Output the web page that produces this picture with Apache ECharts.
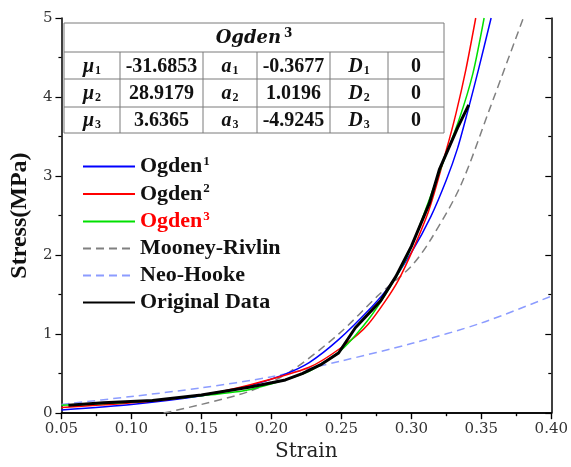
<!DOCTYPE html>
<html><head><meta charset="utf-8">
<script src="https://cdn.jsdelivr.net/npm/echarts/dist/echarts.min.js"></script>
<style>html,body{margin:0;padding:0;background:#fff}#c{width:571px;height:467px}</style>
</head><body><div id="c"></div>
<script>
// ---- data ----
const ogden1Strain = [0.05,0.10,0.15,0.185,0.208,0.227,0.248,0.272,0.284,0.30,0.314,0.325,0.333,0.340,0.348,0.357];
const ogden1Stress = [0.04,0.11,0.22,0.35,0.48,0.64,0.93,1.35,1.60,2.03,2.49,2.95,3.35,3.80,4.35,5.00];
const ogden2Strain = [0.05,0.10,0.15,0.185,0.227,0.25,0.269,0.291,0.312,0.325,0.332,0.339,0.346];
const ogden2Stress = [0.07,0.13,0.23,0.36,0.58,0.83,1.12,1.69,2.54,3.33,3.80,4.35,5.00];
const ogden3Strain = [0.05,0.10,0.15,0.185,0.227,0.25,0.27,0.29,0.30,0.319,0.334,0.344,0.352];
const ogden3Stress = [0.10,0.14,0.22,0.30,0.53,0.80,1.20,1.75,2.10,3.00,3.71,4.30,5.00];
const mooneyStrain = [0.123,0.15,0.185,0.213,0.248,0.277,0.30,0.314,0.335,0.356,0.38];
const mooneyStress = [0.00,0.11,0.28,0.52,1.00,1.50,1.86,2.20,2.87,3.85,5.00];
const neoStrain = [0.05,0.10,0.15,0.20,0.25,0.30,0.35,0.40];
const neoStress = [0.11,0.21,0.32,0.46,0.66,0.88,1.14,1.48];
const origStrain = [0.055,0.08,0.115,0.15,0.185,0.21,0.222,0.236,0.248,0.26,0.278,0.289,0.300,0.313,0.320,0.333,0.341];
const origStress = [0.10,0.13,0.16,0.23,0.33,0.42,0.50,0.62,0.76,1.08,1.42,1.73,2.11,2.66,3.08,3.61,3.90];

const seriesNames = ['Ogden1','Ogden2','Ogden3','Mooney-Rivlin','Neo-Hooke','Original Data'];
const tableTitle = 'Ogden';
const tableTitleSup = '3';
const muValues = ['-31.6853','28.9179','3.6365'];
const aValues = ['-0.3677','1.0196','-4.9245'];
const dValues = ['0','0','0'];
const subIndex = ['1','2','3'];

// ---- layout ----
const colX = [64,120,203,257,330,388,444];
const rowY = [23,52,79,107,133];

function pairs(xs, ys){ return xs.map((x,i)=>[x, ys[i]]); }

const FONT = 'Liberation Serif';
const graphics = [];
graphics.push({type:'rect', shape:{x:colX[0], y:rowY[0], width:colX[6]-colX[0], height:rowY[4]-rowY[0]},
  style:{fill:'#fff', stroke:'#7a7a7a', lineWidth:1}, z:10});
for (let r=1;r<4;r++) graphics.push({type:'line', shape:{x1:colX[0],y1:rowY[r],x2:colX[6],y2:rowY[r]}, style:{stroke:'#7a7a7a',lineWidth:1}, z:11});
for (let c=1;c<6;c++) graphics.push({type:'line', shape:{x1:colX[c],y1:rowY[1],x2:colX[c],y2:rowY[4]}, style:{stroke:'#7a7a7a',lineWidth:1}, z:11});
graphics.push({type:'text', x:(colX[0]+colX[6])/2, y:(rowY[0]+rowY[1])/2+1, z:12,
  style:{text:tableTitle+'{sup|'+tableTitleSup+'}', fill:'#111', font:'italic bold 18px "DejaVu Serif"', align:'center', verticalAlign:'middle',
    rich:{sup:{fontSize:12, fontWeight:'bold', fontFamily:'DejaVu Serif', padding:[0,0,10,3]}}}});
const richSub = {sub:{fontSize:12, fontStyle:'normal', fontWeight:'bold', fontFamily:FONT, padding:[8,0,0,1]}};
for (let r=0;r<3;r++){
  const cy = (rowY[r+1]+rowY[r+2])/2 + 1;
  const cells = [
    ['μ{sub|'+subIndex[r]+'}', true],
    [muValues[r], false],
    ['a{sub|'+subIndex[r]+'}', true],
    [aValues[r], false],
    ['D{sub|'+subIndex[r]+'}', true],
    [dValues[r], false]
  ];
  cells.forEach((cell,c)=>{
    graphics.push({type:'text', x:(colX[c]+colX[c+1])/2, y:cy, z:12,
      style:{text:cell[0], fill:'#111', font:(cell[1]?'italic bold ':'bold ')+'20px "'+FONT+'"', align:'center', verticalAlign:'middle', rich:richSub}});
  });
}

const chart = echarts.init(document.getElementById('c'), null, {renderer:'canvas'});
const axisCommon = {
  axisLine:{show:true, lineStyle:{color:'#000', width:1.5}},
  splitLine:{show:false}
};
chart.setOption({
  backgroundColor:'#fff',
  animation:false,
  grid:{left:59, right:16, top:18, bottom:53, containLabel:false},
  xAxis:[
    Object.assign({type:'value', min:0.05, max:0.40, interval:0.05, position:'bottom',
      axisTick:{show:true, inside:false, length:6, lineStyle:{color:'#000', width:1.2}},
      minorTick:{show:true, splitNumber:2, length:3, lineStyle:{color:'#000', width:1.2}},
      axisLabel:{margin:9, fontFamily:'DejaVu Serif', fontSize:15, color:'#333', formatter:v=>v.toFixed(2)},
      name:'Strain', nameLocation:'middle', nameGap:28,
      nameTextStyle:{fontFamily:'DejaVu Serif', fontSize:20, color:'#222'}}, axisCommon),
    Object.assign({type:'value', min:0.05, max:0.40, interval:0.05, position:'top',
      axisTick:{show:true, inside:true, length:6, lineStyle:{color:'#000', width:1.2}},
      minorTick:{show:true, splitNumber:2, length:3, lineStyle:{color:'#000', width:1.2}},
      axisLabel:{show:false}}, axisCommon)
  ],
  yAxis:[
    Object.assign({type:'value', min:0, max:5, interval:1, position:'left',
      axisTick:{show:true, inside:false, length:6, lineStyle:{color:'#000', width:1.2}},
      minorTick:{show:true, splitNumber:2, length:3, lineStyle:{color:'#000', width:1.2}},
      axisLabel:{margin:9, fontFamily:'DejaVu Serif', fontSize:15, color:'#333'},
      name:'Stress(MPa)', nameLocation:'middle', nameGap:17,
      nameTextStyle:{fontFamily:FONT, fontWeight:'bold', fontSize:24, color:'#111'}}, axisCommon),
    Object.assign({type:'value', min:0, max:5, interval:1, position:'right',
      axisTick:{show:true, inside:true, length:6, lineStyle:{color:'#000', width:1.2}},
      minorTick:{show:true, splitNumber:2, length:3, lineStyle:{color:'#000', width:1.2}},
      axisLabel:{show:false}}, axisCommon)
  ],
  legend:{
    orient:'vertical', left:77, top:150, itemWidth:52, itemHeight:10, itemGap:5,
    itemStyle:{opacity:0},
    textStyle:{fontFamily:FONT, fontWeight:'bold', fontSize:22, color:'#111', lineHeight:22,
      rich:{sup:{fontSize:13, fontWeight:'bold', fontFamily:FONT, padding:[0,0,10,1]}}},
    formatter:n=>n.replace(/^Ogden(\d)$/, 'Ogden{sup|$1}'),
    data:[
      {name:seriesNames[0]},
      {name:seriesNames[1]},
      {name:seriesNames[2], textStyle:{color:'#ff0000'}},
      {name:seriesNames[3]},
      {name:seriesNames[4]},
      {name:seriesNames[5]}
    ]
  },
  graphic:graphics,
  series:[
    {name:seriesNames[0], type:'line', data:pairs(ogden1Strain, ogden1Stress), smooth:0.25, symbol:'none', clip:true,
      lineStyle:{color:'#0000ff', width:1.5}, itemStyle:{color:'#0000ff'}, z:3},
    {name:seriesNames[1], type:'line', data:pairs(ogden2Strain, ogden2Stress), smooth:0.25, symbol:'none', clip:true,
      lineStyle:{color:'#ff0000', width:1.5}, itemStyle:{color:'#ff0000'}, z:3},
    {name:seriesNames[2], type:'line', data:pairs(ogden3Strain, ogden3Stress), smooth:0.25, symbol:'none', clip:true,
      lineStyle:{color:'#00e000', width:1.5}, itemStyle:{color:'#00e000'}, z:3},
    {name:seriesNames[3], type:'line', data:pairs(mooneyStrain, mooneyStress), smooth:0.3, symbol:'none', clip:true,
      lineStyle:{color:'#808080', width:1.5, type:[8,5]}, itemStyle:{color:'#808080'}, z:2},
    {name:seriesNames[4], type:'line', data:pairs(neoStrain, neoStress), smooth:0.3, symbol:'none', clip:true,
      lineStyle:{color:'#8c9cff', width:1.5, type:[8,5]}, itemStyle:{color:'#8c9cff'}, z:2},
    {name:seriesNames[5], type:'line', data:pairs(origStrain, origStress), smooth:false, symbol:'none', clip:true,
      lineStyle:{color:'#000', width:3}, itemStyle:{color:'#000'}, z:5}
  ]
});
</script></body></html>
